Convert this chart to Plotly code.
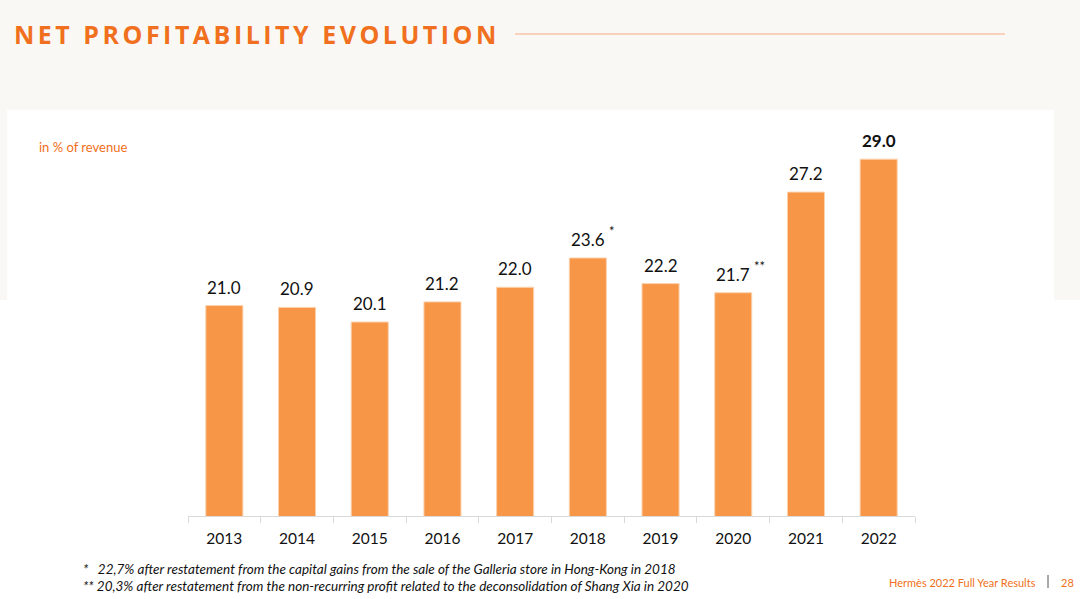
import plotly.graph_objects as go

# ---- data ----
years = ["2013", "2014", "2015", "2016", "2017", "2018", "2019", "2020", "2021", "2022"]
net_margin = [21.0, 20.9, 20.1, 21.2, 22.0, 23.6, 22.2, 21.7, 27.2, 29.0]
notes = ["", "", "", "", "", "*", "", "**", "", ""]
bold_flags = [False, False, False, False, False, False, False, False, False, True]

title_text = "NET PROFITABILITY EVOLUTION"
unit_text = "in % of revenue"
footnote_1 = "*   22,7% after restatement from the capital gains from the sale of the Galleria store in Hong-Kong in 2018"
footnote_2 = "** 20,3% after restatement from the non-recurring profit related to the deconsolidation of Shang Xia in 2020"
footer_text = "Hermès 2022 Full Year Results"
page_num = "28"

W, H = 1080, 599
ORANGE = "#F07020"
BAR = "#F79646"
FONT = "Lato"

def px_x(x):
    return x / W

def px_y(y):
    return 1 - y / H

fig = go.Figure()
fig.add_trace(go.Bar(
    x=years, y=net_margin,
    marker=dict(color=BAR, line=dict(color="#FBD3B0", width=1)),
    hoverinfo="x+y",
))

# value labels (category index positions on the x axis)
for i, (v, b, n) in enumerate(zip(net_margin, bold_flags, notes)):
    lab = f"{v:.1f}"
    if b:
        lab = f"<b>{lab}</b>"
    fig.add_annotation(x=i, y=v, xref="x", yref="y", text=lab, showarrow=False,
                       yanchor="bottom", yshift=6,
                       font=dict(family=FONT, size=17, color="#111111"))
    if n:
        fig.add_annotation(x=i, y=v, xref="x", yref="y", text=n, showarrow=False,
                           xanchor="left", yanchor="bottom", xshift=19, yshift=17,
                           font=dict(family=FONT, size=13, color="#111111"))

l_px, r_px, t_px, b_px = 188, 915, 130, 516
scale = 18.3
ymin = 9.5
ymax = ymin + (b_px - t_px) / scale

fig.update_layout(
    width=W, height=H, autosize=False,
    margin=dict(l=0, r=0, t=0, b=0),
    paper_bgcolor="white", plot_bgcolor="white",
    showlegend=False,
    bargap=0.49,
    xaxis=dict(domain=[px_x(l_px), px_x(r_px)], type="category",
               categoryorder="array", categoryarray=years,
               range=[-0.5, len(years) - 0.5], autorange=False,
               showline=True, linecolor="#D9D9D9", linewidth=1,
               ticks="outside", tickson="boundaries", ticklen=6, tickcolor="#D9D9D9",
               tickangle=0, ticklabelstandoff=8,
               tickfont=dict(family=FONT, size=15.5, color="#111111"),
               showgrid=False, zeroline=False, fixedrange=True),
    yaxis=dict(domain=[px_y(b_px), px_y(t_px)], range=[ymin, ymax], autorange=False,
               visible=False, fixedrange=True),
    font=dict(family=FONT),
    shapes=[
        # off-white header band
        dict(type="rect", xref="paper", yref="paper", x0=0, x1=1, y0=px_y(110), y1=1,
             fillcolor="#F9F8F5", line=dict(width=0), layer="below"),
        dict(type="rect", xref="paper", yref="paper", x0=0, x1=px_x(7), y0=px_y(300), y1=px_y(110),
             fillcolor="#F9F8F5", line=dict(width=0), layer="below"),
        dict(type="rect", xref="paper", yref="paper", x0=px_x(1054), x1=1, y0=px_y(300), y1=px_y(110),
             fillcolor="#F9F8F5", line=dict(width=0), layer="below"),
        # title rule
        dict(type="line", xref="paper", yref="paper", x0=px_x(515), x1=px_x(1005),
             y0=px_y(34), y1=px_y(34), line=dict(color="#F9C4A6", width=1.5)),
        # footer separator
        dict(type="line", xref="paper", yref="paper", x0=px_x(1048), x1=px_x(1048),
             y0=px_y(575), y1=px_y(588), line=dict(color="#555555", width=1)),
    ],
)

# title
fig.add_annotation(xref="paper", yref="paper", x=px_x(11), y=px_y(34), xanchor="left", yanchor="middle",
                   text=f"<b>{title_text}</b>", showarrow=False,
                   font=dict(family="Open Sans", size=25, color=ORANGE))
# unit
fig.add_annotation(xref="paper", yref="paper", x=px_x(37), y=px_y(147), xanchor="left", yanchor="middle",
                   text=unit_text, showarrow=False,
                   font=dict(family=FONT, size=13, color=ORANGE))
# footnotes
fig.add_annotation(xref="paper", yref="paper", x=px_x(81), y=px_y(569), xanchor="left", yanchor="middle",
                   text=f"<i>{footnote_1}</i>", showarrow=False,
                   font=dict(family=FONT, size=13.5, color="#111111"))
fig.add_annotation(xref="paper", yref="paper", x=px_x(81), y=px_y(586), xanchor="left", yanchor="middle",
                   text=f"<i>{footnote_2}</i>", showarrow=False,
                   font=dict(family=FONT, size=13.5, color="#111111"))
# footer
fig.add_annotation(xref="paper", yref="paper", x=px_x(1038), y=px_y(582), xanchor="right", yanchor="middle",
                   text=footer_text, showarrow=False,
                   font=dict(family=FONT, size=11, color=ORANGE))
fig.add_annotation(xref="paper", yref="paper", x=px_x(1059), y=px_y(582), xanchor="left", yanchor="middle",
                   text=page_num, showarrow=False,
                   font=dict(family=FONT, size=11, color=ORANGE))

post = """
document.body.style.margin='0';
document.body.style.overflow='hidden';
document.querySelectorAll('.annotation-text').forEach(function(t){
  if (t.textContent === '%s') {
    t.style.letterSpacing='3.5px';
    var r = t.getBoundingClientRect();
    var dx = 14 - r.left;
    var tr = t.getAttribute('transform') || '';
    t.setAttribute('transform', tr + ' translate(' + dx + ',0)');
  }
});
""" % title_text

fig.write_html("out.html", config={"displayModeBar": False}, post_script=post)
